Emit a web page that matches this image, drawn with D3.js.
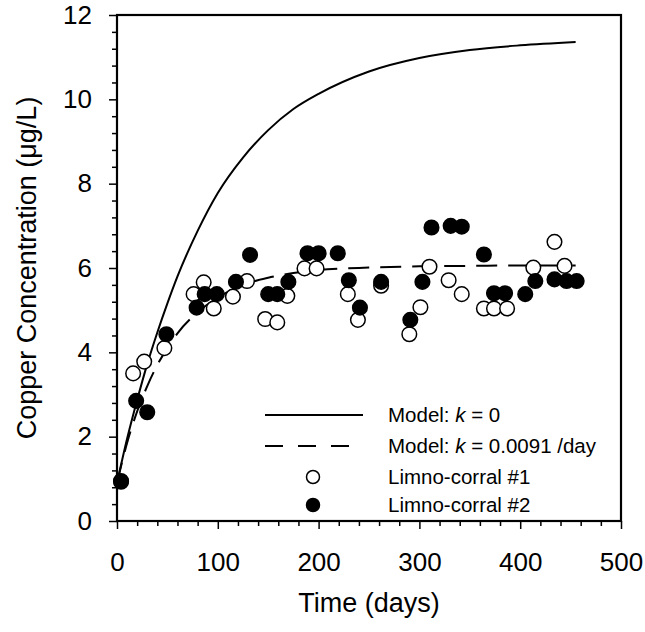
<!DOCTYPE html>
<html lang="en">
<head>
<meta charset="UTF-8" />
<script src="https://d3js.org/d3.v7.min.js"></script>
<title>Copper concentration in limno-corrals</title>
<style>
  html, body { margin: 0; padding: 0; background: #fff; }
  svg { display: block; font-family: Arial, "Liberation Sans", sans-serif; }
</style>
</head>
<body>
<svg id="chart" width="645" height="632"></svg>
<script>
// model curves (day -> ug/L)
var modelDays = [0, 10, 20, 30, 40, 50, 60, 80, 100, 125, 150, 175, 200, 250, 300, 350, 400, 455];
var modelK0   = [0.9, 1.95, 2.87, 3.72, 4.47, 5.16, 5.8, 6.88, 7.78, 8.62, 9.27, 9.77, 10.13, 10.66, 10.98, 11.17, 11.28, 11.36];
var modelK    = [0.9, 1.85, 2.6, 3.2, 3.7, 4.1, 4.45, 4.95, 5.3, 5.6, 5.77, 5.88, 5.95, 6.01, 6.04, 6.05, 6.06, 6.06];

// limno-corral #1 (open circles)
var lc1Days = [4, 16, 27, 47, 76, 86, 96, 115, 129, 147, 159, 169, 186, 198, 229, 239, 262, 290, 301, 310, 329, 342, 364, 374, 387, 413, 434, 444];
var lc1Cu   = [0.95, 3.5, 3.78, 4.1, 5.38, 5.66, 5.04, 5.32, 5.69, 4.79, 4.71, 5.34, 5.99, 5.99, 5.38, 4.77, 5.58, 4.43, 5.07, 6.03, 5.71, 5.38, 5.04, 5.04, 5.04, 6.01, 6.62, 6.05];

// limno-corral #2 (filled circles)
var lc2Days = [4, 19, 30, 49, 79, 87, 99, 118, 132, 150, 159, 170, 189, 200, 219, 230, 241, 262, 291, 303, 312, 331, 342, 364, 374, 385, 405, 415, 434, 446, 456];
var lc2Cu   = [0.93, 2.85, 2.58, 4.43, 5.06, 5.38, 5.38, 5.67, 6.31, 5.38, 5.38, 5.67, 6.35, 6.35, 6.35, 5.71, 5.06, 5.67, 4.77, 5.67, 6.96, 7.0, 6.98, 6.32, 5.4, 5.4, 5.38, 5.69, 5.73, 5.69, 5.69];

var xTicks = [0, 100, 200, 300, 400, 500];
var yTicks = [0, 2, 4, 6, 8, 10, 12];
var legendLabels = ["Model: k = 0", "Model: k = 0.0091 /day", "Limno-corral #1", "Limno-corral #2"];

var svg = d3.select("#chart");

var x = d3.scaleLinear().domain([0, 500]).range([117, 621]);
var y = d3.scaleLinear().domain([0, 12]).range([521, 15]);

// axes: major ticks with labels, minor ticks without
var minorX = d3.range(0, 501, 20).filter(function(d) { return d % 100 !== 0; });
var minorY = d3.range(0, 12.01, 0.4).map(function(d) { return +d.toFixed(1); })
  .filter(function(d) { return Math.abs(d / 2 - Math.round(d / 2)) > 0.01; });

svg.append("g")
  .attr("transform", "translate(0,521)")
  .call(d3.axisBottom(x).tickValues(minorX).tickSize(5).tickFormat("").tickSizeOuter(0));
svg.append("g")
  .attr("transform", "translate(117,0)")
  .call(d3.axisLeft(y).tickValues(minorY).tickSize(5).tickFormat("").tickSizeOuter(0));

var xAxis = svg.append("g")
  .attr("transform", "translate(0,521)")
  .call(d3.axisBottom(x).tickValues(xTicks).tickSize(8).tickPadding(24).tickSizeOuter(0));
var yAxis = svg.append("g")
  .attr("transform", "translate(117,0)")
  .call(d3.axisLeft(y).tickValues(yTicks).tickSize(8).tickPadding(17).tickSizeOuter(0));

svg.selectAll(".tick line").attr("stroke", "#000").attr("stroke-width", 1.5);
svg.selectAll(".domain").remove();
[xAxis, yAxis].forEach(function(a) {
  a.selectAll("text").attr("font-size", 26).attr("font-family", "Arial, 'Liberation Sans', sans-serif").attr("fill", "#000");
});

// frame
svg.append("rect")
  .attr("x", x(0)).attr("y", y(12))
  .attr("width", x(500) - x(0)).attr("height", y(0) - y(12))
  .attr("fill", "none").attr("stroke", "#000").attr("stroke-width", 2.2);

// model lines
var line = d3.line()
  .x(function(d) { return x(d[0]); })
  .y(function(d) { return y(d[1]); })
  .curve(d3.curveMonotoneX);

svg.append("path")
  .datum(d3.zip(modelDays, modelK0))
  .attr("d", line)
  .attr("fill", "none").attr("stroke", "#000").attr("stroke-width", 2);

svg.append("path")
  .datum(d3.zip(modelDays, modelK))
  .attr("d", line)
  .attr("fill", "none").attr("stroke", "#000").attr("stroke-width", 2)
  .attr("stroke-dasharray", "21,11");

// data points
svg.append("g").selectAll("circle")
  .data(d3.zip(lc1Days, lc1Cu))
  .join("circle")
    .attr("cx", function(d) { return x(d[0]); })
    .attr("cy", function(d) { return y(d[1]); })
    .attr("r", 7.3)
    .attr("fill", "#fff").attr("stroke", "#000").attr("stroke-width", 1.5);

svg.append("g").selectAll("circle")
  .data(d3.zip(lc2Days, lc2Cu))
  .join("circle")
    .attr("cx", function(d) { return x(d[0]); })
    .attr("cy", function(d) { return y(d[1]); })
    .attr("r", 7.3)
    .attr("fill", "#000").attr("stroke", "#000").attr("stroke-width", 1.5);

// axis titles
svg.append("text")
  .attr("x", 369).attr("y", 612)
  .attr("text-anchor", "middle").attr("font-size", 27)
  .text("Time (days)");

svg.append("text")
  .attr("transform", "translate(36,268) rotate(-90)")
  .attr("text-anchor", "middle").attr("font-size", 27)
  .text("Copper Concentration (\u03bcg/L)");

// legend
var legendY = [415, 446, 477, 505];
var lg = svg.append("g");
lg.append("line").attr("x1", 265).attr("x2", 363).attr("y1", legendY[0]).attr("y2", legendY[0])
  .attr("stroke", "#000").attr("stroke-width", 2);
lg.append("line").attr("x1", 265).attr("x2", 350).attr("y1", legendY[1]).attr("y2", legendY[1])
  .attr("stroke", "#000").attr("stroke-width", 2).attr("stroke-dasharray", "18,15");
lg.append("circle").attr("cx", 313).attr("cy", legendY[2]).attr("r", 6.5)
  .attr("fill", "#fff").attr("stroke", "#000").attr("stroke-width", 1.5);
lg.append("circle").attr("cx", 313).attr("cy", legendY[3]).attr("r", 6.5)
  .attr("fill", "#000").attr("stroke", "#000").attr("stroke-width", 1.5);

legendLabels.forEach(function(s, i) {
  var t = lg.append("text").attr("x", 388).attr("y", legendY[i]).attr("dy", "0.35em").attr("font-size", 20.5);
  var parts = s.split(" k ");
  if (parts.length > 1) {
    t.append("tspan").text(parts[0] + " ");
    t.append("tspan").attr("font-style", "italic").text("k");
    t.append("tspan").text(" " + parts[1]);
  } else {
    t.text(s);
  }
});
</script>
</body>
</html>
